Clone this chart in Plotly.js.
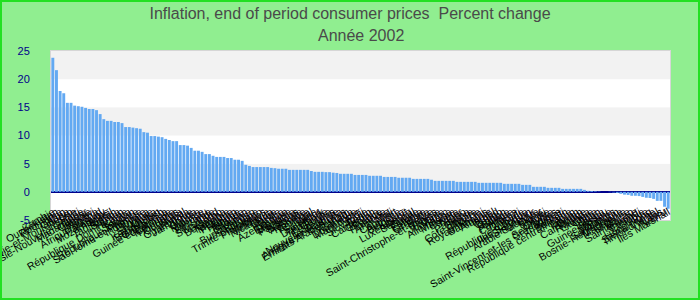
<!DOCTYPE html>
<html>
<head>
<meta charset="utf-8">
<script src="https://cdn.plot.ly/plotly-3.0.1.min.js"></script>
<style>
html,body{margin:0;padding:0;background:#90ee90;}
#wrap{position:relative;width:700px;height:300px;}
#chart{width:700px;height:300px;}
#frame{position:absolute;left:0;top:0;width:700px;height:300px;box-sizing:border-box;border:2px solid #22e022;pointer-events:none;}
</style>
</head>
<body>
<div id="wrap"><div id="chart"></div><div id="frame"></div></div>
<script>
const countries = [
"Zambie","Ouzbékistan","Roumanie","Iran","Ghana","Serbie-et-Monténégro","Russie","Haïti","Papouasie-Nouvelle-Guinée","Madagascar",
"Gambie","Malawi","Nigeria","Afrique du Sud","Paraguay","Mozambique","Brésil","Tadjikistan","Samoa","Yémen",
"République Dominicaine","Kenya","Soudan","République kirghize","Sao Tomé-et-Principe","Indonésie","Guyana","Turquie","Sri Lanka","Kazakhstan",
"Bangladesh","Costa Rica","Guinée équatoriale","Colombie","Honduras","Ouganda","Népal","Guatemala","Jamaïque","Tonga",
"Guinée","Maurice","Vanuatu","Tanzanie","Inde","Swaziland","Lesotho","Botswana","Namibie","Mexique",
"Pakistan","Hongrie","Islande","Bhoutan","Slovénie","Burkina Faso","Bulgarie","Trinité-et-Tobago","Philippines","Moldavie",
"Nicaragua","Corée","Irlande","Grèce","Azerbaïdjan","Espagne","Mongolie","Pays-Bas","Barbade","Australie",
"Norvège","Portugal","Italie","Salvador","Danemark","Thaïlande","Croatie","Etats-Unis","Nouvelle-Zélande","Antigua-et-Barbuda",
"Emirats Arabes Unis","Vietnam","Canada","Dominique","Macédoine","Fidji","Slovaquie","Bénin","Cameroun","Géorgie",
"France","Finlande","Arménie","Mali","Cap-Vert","Autriche","Belgique","Koweït","Luxembourg","Sénégal",
"Suède","Estonie","Lettonie","Grenade","Belize","Saint-Christophe-et-Niévès","Tunisie","Jordanie","Maroc","Allemagne",
"Malaisie","Egypte","Niger","Togo","Panama","Suisse","Côte d'Ivoire","Algérie","Royaume-Uni","Bahamas",
"Albanie","Israël","Tchad","Congo","Gabon","Bolivie","Pologne","Comores","Djibouti","Syrie",
"République tchèque","Iles Salomon","Singapour","Arabie Saoudite","Qatar","Brunéi","Malte","Chypre","Seychelles","Saint-Vincent-et-les Grenadines",
"Kiribati","Bahreïn","République centrafricaine","Japon","Taïwan","Oman","Cambodge","Rwanda","Lituanie","Chine",
"Liban","Libéria","Guinée-Bissau","Ukraine","Maldives","Saint-Marin","Bosnie-Herzégovine","Mauritanie","Erythrée","Macao",
"Sainte-Lucie","Burundi","Ethiopie","Libye","Hong Kong","Sierra Leone","Timor oriental","Laos","Nauru","Iles Marshall"
];
const inflation = [
23.8,21.6,17.9,17.5,15.8,15.8,15.3,15.2,15.1,14.9,
14.7,14.7,14.5,13.8,12.9,12.6,12.6,12.4,12.4,12.2,
11.5,11.5,11.4,11.3,11.2,10.6,10.5,9.9,9.9,9.8,
9.7,9.4,9.2,9.0,9.0,8.3,8.3,8.2,7.8,7.3,
7.3,7.1,6.7,6.7,6.4,6.2,6.2,6.2,6.0,6.0,
5.7,5.7,5.5,4.8,4.6,4.4,4.4,4.4,4.4,4.4,
4.25,4.2,4.1,4.1,4.1,3.9,3.9,3.9,3.9,3.9,
3.9,3.7,3.55,3.55,3.55,3.5,3.5,3.4,3.35,3.2,
3.2,3.2,3.2,3.0,3.0,3.0,3.0,2.85,2.85,2.85,
2.85,2.65,2.65,2.65,2.65,2.5,2.5,2.5,2.5,2.3,
2.3,2.3,2.3,2.3,2.15,1.95,1.95,1.95,1.95,1.95,
1.95,1.77,1.77,1.77,1.77,1.77,1.77,1.6,1.6,1.6,
1.6,1.6,1.6,1.6,1.42,1.42,1.42,1.42,1.42,1.24,
1.24,1.24,0.89,0.89,0.89,0.89,0.71,0.71,0.71,0.71,
0.53,0.53,0.53,0.53,0.53,0.53,0.35,0.18,0.15,0.1,
0.05,0.0,0.0,-0.05,-0.1,-0.2,-0.35,-0.5,-0.55,-0.7,
-0.7,-0.75,-0.9,-1.05,-1.1,-1.25,-1.6,-1.6,-2.65,-3.0
];
const yTicks = [-5,0,5,10,15,20,25];
const titleText = "Inflation, end of period consumer prices&nbsp; Percent change";
const subtitleText = "Année 2002";

const bands = [];
for (let i = 0; i < yTicks.length - 1; i++) {
  bands.push({type:'rect', xref:'paper', yref:'y', x0:0, x1:1, y0:yTicks[i], y1:yTicks[i+1],
    fillcolor: (i % 2 === 1) ? '#f2f2f2' : '#ffffff', line:{width:0}, layer:'below'});
}

const trace = {
  type:'bar', x: countries, y: inflation,
  marker:{color:'#63a9f2', line:{width:0}},
  hoverinfo:'x+y'
};

const titleFont = {family:'"Liberation Sans", Arial, sans-serif', size:16, color:'#4a4a4a'};

const layout = {
  width:700, height:300,
  paper_bgcolor:'#90ee90', plot_bgcolor:'#ffffff',
  margin:{l:51, r:30, t:51, b:80, pad:0},
  font:{family:'"Liberation Sans", Arial, sans-serif', color:'#000'},
  title:{text: titleText, font:titleFont, x:0.5, xanchor:'center', y:0.957, yanchor:'middle', yref:'container'},
  annotations:[{text: subtitleText, font:titleFont, xref:'paper', yref:'paper', x:0.5, y:1.089,
    xanchor:'center', yanchor:'middle', showarrow:false}],
  bargap:0.2,
  showlegend:false,
  shapes: bands,
  xaxis:{type:'category', tickmode:'linear', dtick:1, tickangle:-30, tickfont:{size:10.5, color:'#000'},
    showgrid:false, showline:true, mirror:true, linecolor:'#d6d6d6', linewidth:1, ticks:'', ticklabelstandoff:-19, automargin:false},
  yaxis:{range:[-5,25], tickvals:yTicks, ticktext:yTicks.map(String), tickfont:{size:11, color:'#00008b'},
    showgrid:false, zeroline:true, zerolinecolor:'#00008b', zerolinewidth:2,
    showline:true, mirror:true, linecolor:'#d6d6d6', linewidth:1, ticks:'', ticklabelstandoff:18, automargin:false}
};

Plotly.newPlot('chart', [trace], layout, {staticPlot:true, displayModeBar:false});
</script>
</body>
</html>
